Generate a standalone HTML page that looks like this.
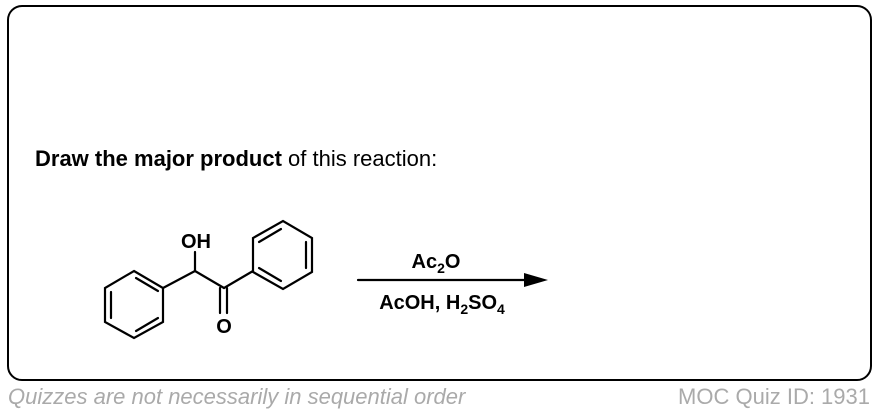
<!DOCTYPE html>
<html><head><style>
body{margin:0;width:878px;height:414px;background:#fff;overflow:hidden;font-family:"Liberation Sans",Arial,sans-serif;}
.frame{position:absolute;left:7px;top:5px;width:861px;height:372px;border:2.5px solid #000;border-radius:15px;}
.t{position:absolute;white-space:nowrap;}
</style></head><body>
<div class="frame"></div>
<div class="t" style="left:35px;top:146px;font-size:22px;"><b>Draw the major product</b> of this reaction:</div>
<svg width="878" height="414" style="position:absolute;left:0;top:0" font-family="Liberation Sans, Arial, sans-serif">
<g stroke="#000" stroke-width="2.2" fill="none" stroke-linecap="round">
<polygon points="134,271 163,288 163,322 134,338 105,322 105,288"/>
<line x1="111" y1="292" x2="111" y2="318"/>
<line x1="136" y1="278" x2="158" y2="291"/>
<line x1="136" y1="331" x2="158" y2="318"/>
<line x1="163" y1="288" x2="195" y2="271"/>
<line x1="195" y1="271" x2="195" y2="252"/>
<line x1="195" y1="271" x2="224" y2="288"/>
<line x1="220" y1="288" x2="220" y2="313"/>
<line x1="227" y1="288" x2="227" y2="313"/>
<line x1="224" y1="288" x2="253" y2="271"/>
<polygon points="253,272 253,238 283,221 312,238 312,272 283,289"/>
<line x1="259" y1="242" x2="281" y2="229"/>
<line x1="306" y1="242" x2="306" y2="268"/>
<line x1="259" y1="268" x2="281" y2="281"/>
<line x1="358" y1="280" x2="528" y2="280"/>
</g>
<polygon points="548,280 524,273 524,287" fill="#000"/>
<text x="196" y="248" font-size="20" font-weight="bold" text-anchor="middle">OH</text>
<text x="224" y="333" font-size="20" font-weight="bold" text-anchor="middle">O</text>
<text x="436" y="268" font-size="20" font-weight="bold" text-anchor="middle">Ac<tspan font-size="14" dy="5">2</tspan><tspan dy="-5">O</tspan></text>
<text x="442" y="309" font-size="20" font-weight="bold" text-anchor="middle">AcOH, H<tspan font-size="14" dy="5">2</tspan><tspan dy="-5">SO</tspan><tspan font-size="14" dy="5">4</tspan></text>
</svg>
<div class="t" style="left:8px;top:384px;font-size:22px;font-style:italic;color:#aaa;">Quizzes are not necessarily in sequential order</div>
<div class="t" style="right:8px;top:384px;font-size:22px;color:#aaa;">MOC Quiz ID: 1931</div>
</body></html>
